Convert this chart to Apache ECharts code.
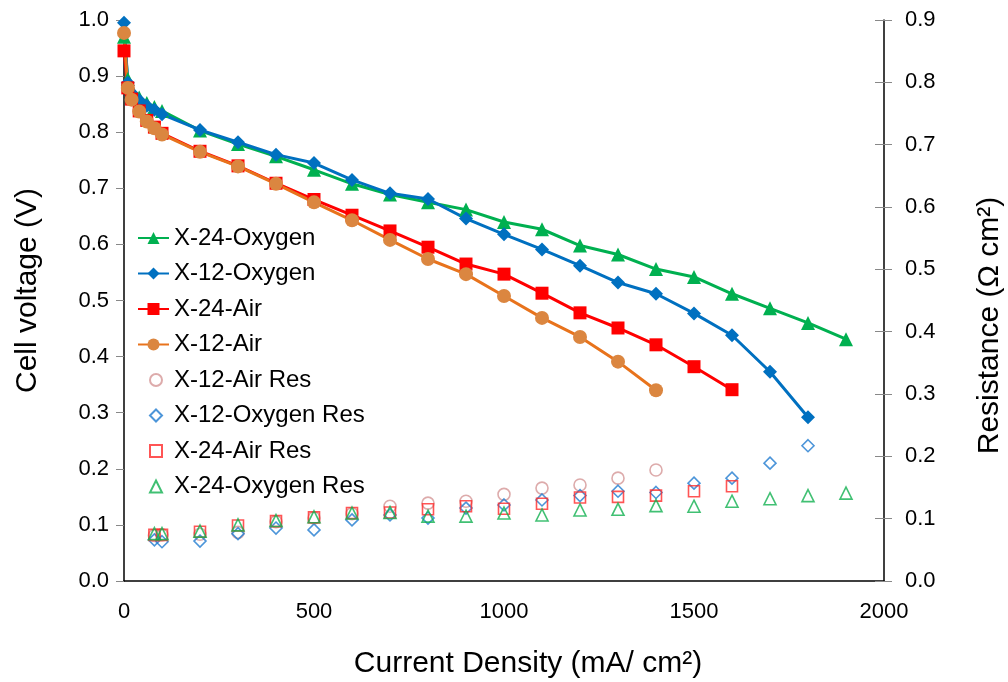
<!DOCTYPE html>
<html>
<head>
<meta charset="utf-8">
<script src="https://cdn.jsdelivr.net/npm/echarts@6/dist/echarts.min.js"></script>
<style>
  html, body { margin: 0; padding: 0; background: #fff; }
  #chart { width: 1008px; height: 682px; }
</style>
</head>
<body>
<div id="chart"></div>
<script>
// Polarisation curves (cell voltage) and high-frequency resistance vs current density
const FONT = '"Liberation Sans", Arial, sans-serif';

// Current density points (mA/cm2) for the polarisation curves
const vCurrent = [0, 10, 20, 40, 60, 80, 100, 200, 300, 400, 500, 600, 700, 800, 900, 1000,
                  1100, 1200, 1300, 1400, 1500, 1600, 1700, 1800, 1900];

// Cell voltage (V)
const x24Oxygen = [0.970, 0.895, 0.876, 0.862, 0.852, 0.845, 0.838, 0.803, 0.779, 0.757, 0.733, 0.708, 0.689,
                   0.675, 0.662, 0.640, 0.627, 0.598, 0.582, 0.556, 0.542, 0.512, 0.486, 0.460, 0.431];
const x12Oxygen = [0.995, 0.888, 0.870, 0.857, 0.847, 0.840, 0.832, 0.804, 0.782, 0.760, 0.745, 0.715, 0.691,
                   0.681, 0.646, 0.618, 0.591, 0.562, 0.532, 0.512, 0.477, 0.438, 0.373, 0.292];
const x24Air    = [0.945, 0.879, 0.859, 0.838, 0.821, 0.809, 0.798, 0.766, 0.740, 0.709, 0.680, 0.652, 0.624,
                   0.595, 0.565, 0.547, 0.513, 0.478, 0.451, 0.421, 0.382, 0.341];
const x12Air    = [0.977, 0.879, 0.858, 0.837, 0.819, 0.807, 0.796, 0.765, 0.739, 0.708, 0.675, 0.643, 0.608,
                   0.574, 0.547, 0.508, 0.469, 0.435, 0.391, 0.340];

// Current density points (mA/cm2) for the resistance measurements
const rCurrent = [80, 100, 200, 300, 400, 500, 600, 700, 800, 900, 1000, 1100, 1200, 1300, 1400,
                  1500, 1600, 1700, 1800, 1900];

// Resistance (Ohm cm2)
const x12AirRes    = [0.073, 0.074, 0.075, 0.078, 0.095, 0.101, 0.108, 0.120, 0.125, 0.128, 0.139, 0.149,
                      0.154, 0.165, 0.178];
const x12OxygenRes = [0.066, 0.063, 0.064, 0.076, 0.085, 0.082, 0.098, 0.106, 0.101, 0.117, 0.122, 0.130,
                      0.137, 0.144, 0.142, 0.157, 0.165, 0.189, 0.217];
const x24AirRes    = [0.074, 0.074, 0.079, 0.089, 0.096, 0.102, 0.109, 0.110, 0.115, 0.120, 0.116, 0.124,
                      0.134, 0.135, 0.137, 0.144, 0.152];
const x24OxygenRes = [0.076, 0.076, 0.080, 0.090, 0.097, 0.103, 0.109, 0.110, 0.104, 0.104, 0.109, 0.106,
                      0.114, 0.115, 0.121, 0.120, 0.128, 0.132, 0.137, 0.141];

function pairs(xs, ys) {
  return ys.map((y, i) => [xs[i], y]);
}

function curve(name, values, lineColor, markColor, symbol, size) {
  return {
    name, type: 'line', yAxisIndex: 0,
    data: pairs(vCurrent, values),
    symbol, symbolSize: size,
    lineStyle: { color: lineColor, width: 3 },
    itemStyle: { color: markColor },
    emphasis: { disabled: true },
    animation: false
  };
}

function resist(name, values, color, symbol, size) {
  return {
    name, type: 'scatter', yAxisIndex: 1,
    data: pairs(rCurrent, values),
    symbol, symbolSize: size,
    itemStyle: { color: 'rgba(255,255,255,0)', borderColor: color, borderWidth: 1.6 },
    emphasis: { disabled: true },
    animation: false
  };
}

const lineSeries = [
  curve('X-24-Oxygen', x24Oxygen, '#00b050', '#00b050', 'triangle', 14),
  curve('X-12-Oxygen', x12Oxygen, '#0070c0', '#0070c0', 'diamond', 14),
  curve('X-24-Air', x24Air, '#ff0000', '#ff0000', 'rect', 13),
  curve('X-12-Air', x12Air, '#e8731c', '#db8640', 'circle', 14)
];
const resSeries = [
  resist('X-12-Air Res', x12AirRes, '#d49696', 'circle', 12),
  resist('X-12-Oxygen Res', x12OxygenRes, '#1f7ad0', 'diamond', 12),
  resist('X-24-Air Res', x24AirRes, '#ff2a2a', 'rect', 11),
  resist('X-24-Oxygen Res', x24OxygenRes, '#12b050', 'triangle', 12)
];
const series = lineSeries.concat(resSeries);

const tickLabel = { color: '#000', fontSize: 22, fontFamily: FONT };
const nameStyle = { color: '#000', fontSize: 30, fontFamily: FONT };
const legendText = { color: '#000', fontSize: 24, fontFamily: FONT, lineHeight: 24 };

const option = {
  backgroundColor: '#fff',
  animation: false,
  grid: { left: 124, right: 124, top: 20, bottom: 101, containLabel: false, outerBoundsMode: 'none' },
  legend: [
    {
      // curves: line with marker
      orient: 'vertical', left: 137, top: 226, padding: 0,
      itemWidth: 31, itemHeight: 15, itemGap: 11.5,
      textStyle: legendText,
      data: lineSeries.map(s => s.name)
    },
    {
      // resistance: hollow marker only
      orient: 'vertical', left: 149, top: 368, padding: 0,
      itemWidth: 12, itemHeight: 12, itemGap: 11.5,
      textStyle: Object.assign({ padding: [0, 0, 0, 7] }, legendText),
      data: resSeries.map(s => s.name)
    }
  ],
  xAxis: {
    type: 'value', min: 0, max: 2000, interval: 500,
    name: 'Current Density (mA/ cm²)', nameLocation: 'middle', nameGap: 68,
    nameTextStyle: Object.assign({ padding: [0, 0, 0, 48] }, nameStyle),
    axisLine: { show: true, lineStyle: { color: '#000', width: 1.5 } },
    axisTick: { show: false },
    axisLabel: Object.assign({ margin: 20, formatter: v => String(v) }, tickLabel),
    splitLine: { show: false }
  },
  yAxis: [
    {
      type: 'value', position: 'left', min: 0, max: 1.0, interval: 0.1,
      name: 'Cell voltage (V)', nameLocation: 'middle', nameGap: 81, nameRotate: 90,
      nameTextStyle: Object.assign({ padding: [0, 0, 0, 20] }, nameStyle),
      axisLine: { show: true, lineStyle: { color: '#000', width: 1.5 } },
      axisTick: { show: true, length: 8, lineStyle: { color: '#888' } },
      axisLabel: Object.assign({ margin: 15, formatter: v => v.toFixed(1) }, tickLabel),
      splitLine: { show: false }
    },
    {
      type: 'value', position: 'right', min: 0, max: 0.9, interval: 0.1,
      name: 'Resistance (Ω cm²)', nameLocation: 'middle', nameGap: 91, nameRotate: 90,
      nameTextStyle: Object.assign({ padding: [0, 50, 0, 0] }, nameStyle),
      axisLine: { show: true, lineStyle: { color: '#000', width: 1.5 } },
      axisTick: { show: true, length: 8, lineStyle: { color: '#888' } },
      axisLabel: Object.assign({ margin: 21, formatter: v => v.toFixed(1) }, tickLabel),
      splitLine: { show: false }
    },
    {
      // inner half of the crossing tick marks on the resistance axis
      type: 'value', position: 'right', min: 0, max: 0.9, interval: 0.1,
      axisLine: { show: false },
      axisTick: { show: true, inside: true, length: 9, lineStyle: { color: '#888' } },
      axisLabel: { show: false },
      splitLine: { show: false }
    }
  ],
  series
};

const chart = echarts.init(document.getElementById('chart'), null, { renderer: 'canvas' });
chart.setOption(option);
</script>
</body>
</html>
